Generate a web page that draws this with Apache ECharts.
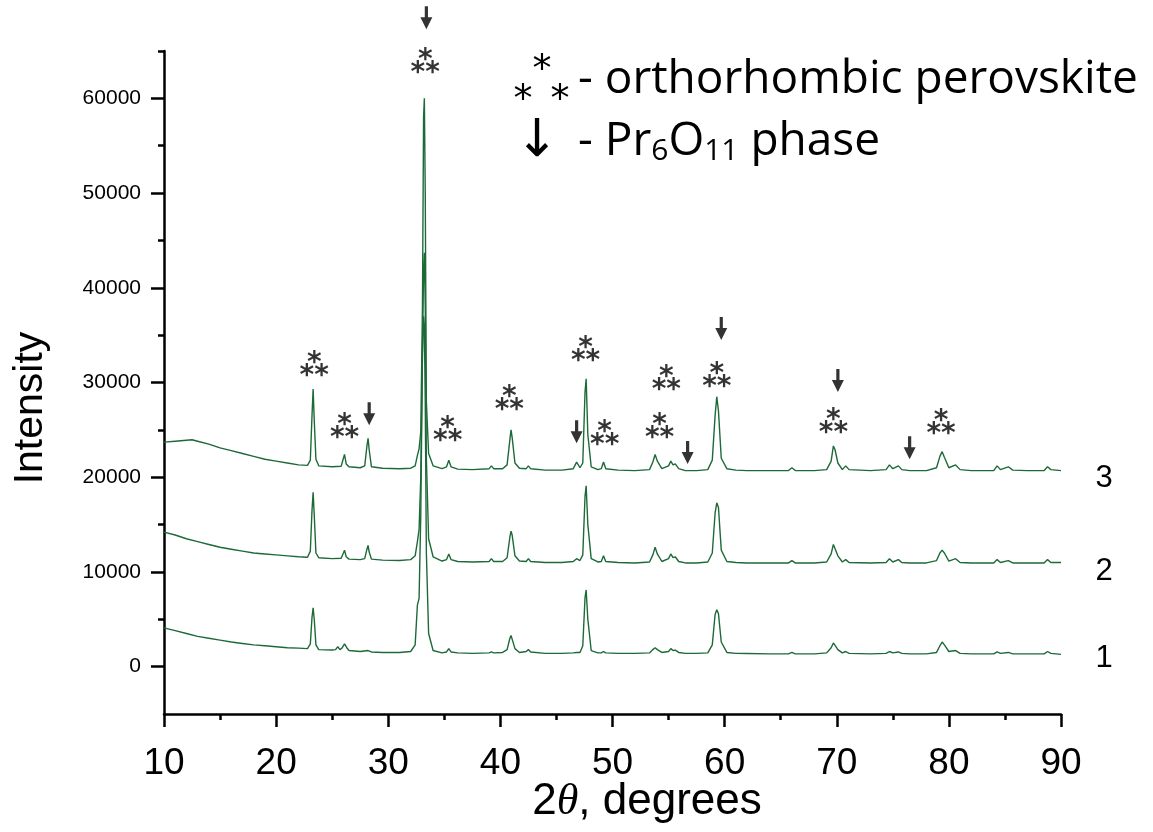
<!DOCTYPE html>
<html>
<head>
<meta charset="utf-8">
<script src="https://cdn.jsdelivr.net/npm/echarts@6/dist/echarts.min.js"></script>
<style>
html,body{margin:0;padding:0;background:#fff;}
#chart{width:1153px;height:832px;}
</style>
</head>
<body>
<div id="chart"></div>
<script>
// ---- data (2θ in degrees, intensity in counts) ----
const pattern1 = [[10,4100],[11,3800],[12,3500],[13,3200],[14,3000],[15,2800],[16,2600],[17,2450],[18,2300],[19,2200],[20,2100],[21,2000],[22,1950],[22.8,1900],[23.05,2400],[23.2,5200],[23.3,6200],[23.4,5000],[23.55,2300],[23.8,1800],[25,1750],[25.3,1800],[25.5,2100],[25.7,1800],[25.9,2000],[26.1,2400],[26.3,2000],[26.5,1700],[27.5,1600],[28.2,1700],[28.5,1550],[29.5,1500],[31,1500],[32,1600],[32.4,2300],[32.6,6500],[32.75,7200],[32.9,16000],[33.05,33000],[33.15,37000],[33.22,36000],[33.3,28000],[33.4,12000],[33.6,3500],[34.0,1700],[34.8,1450],[35.2,1550],[35.4,1900],[35.6,1550],[36.2,1450],[37.5,1400],[39.0,1450],[39.2,1550],[39.4,1450],[40.2,1500],[40.6,1800],[40.85,3000],[40.95,3300],[41.05,3100],[41.3,1900],[41.7,1500],[42.3,1600],[42.5,1800],[42.7,1550],[44,1400],[45.5,1400],[46.5,1450],[46.8,1500],[47.1,1500],[47.35,2200],[47.55,7300],[47.65,8100],[47.8,5000],[48.1,1700],[48.7,1450],[49.0,1450],[49.2,1600],[49.4,1450],[50.5,1400],[52,1400],[53.3,1450],[53.6,1800],[53.8,2000],[54.0,1800],[54.4,1500],[55.0,1600],[55.2,1900],[55.4,1700],[55.6,1750],[55.9,1500],[56.5,1400],[57.5,1400],[58.5,1450],[58.9,2300],[59.15,5500],[59.3,6000],[59.45,5600],[59.7,2600],[60.2,1500],[61,1400],[62,1380],[64,1350],[65.7,1350],[66,1500],[66.3,1350],[68,1350],[69.1,1450],[69.5,2000],[69.7,2500],[69.85,2400],[70.1,1800],[70.5,1450],[70.8,1600],[71.1,1400],[73,1350],[74.4,1400],[74.7,1600],[75,1450],[75.5,1550],[75.8,1400],[76.5,1350],[78,1350],[78.9,1500],[79.2,2200],[79.4,2600],[79.6,2300],[80,1600],[80.6,1700],[81,1400],[82,1350],[84,1350],[84.3,1550],[84.6,1400],[85.3,1500],[85.7,1350],[87,1350],[88.5,1350],[88.8,1600],[89.1,1400],[90,1300]];

const pattern2 = [[10,14200],[11,13900],[12,13500],[13,13200],[14,12900],[15,12600],[16,12400],[17,12200],[18,12000],[19,11900],[20,11800],[21,11700],[22,11600],[22.8,11550],[23.05,12200],[23.2,16500],[23.3,18400],[23.4,16000],[23.55,12000],[23.8,11500],[25,11400],[25.8,11450],[26.0,12000],[26.1,12300],[26.25,11600],[26.5,11350],[27.5,11300],[27.9,11400],[28.1,12400],[28.2,12800],[28.3,12100],[28.5,11350],[29.5,11250],[31,11200],[32,11300],[32.4,11700],[32.6,13200],[32.75,14500],[32.9,20000],[33.05,33000],[33.15,42000],[33.22,43700],[33.3,38000],[33.4,22000],[33.6,13500],[34.0,11600],[34.8,11150],[35.2,11300],[35.4,11900],[35.6,11300],[36.2,11100],[37.5,11050],[39.0,11100],[39.2,11400],[39.4,11100],[40.2,11100],[40.6,11500],[40.85,13700],[40.95,14300],[41.05,13900],[41.3,11700],[41.7,11150],[42.3,11100],[42.5,11400],[42.7,11100],[44,11000],[45.5,11000],[46.5,11100],[46.8,11400],[47.1,11200],[47.35,11800],[47.55,18000],[47.65,19100],[47.8,15000],[48.1,11400],[48.7,11050],[49.0,11100],[49.2,11700],[49.4,11100],[50.5,11000],[52,10950],[53.3,11050],[53.6,11800],[53.8,12600],[54.0,11900],[54.4,11100],[55.0,11400],[55.2,11900],[55.4,11500],[55.6,11600],[55.9,11100],[56.5,10950],[57.5,10950],[58.5,11050],[58.9,12000],[59.15,16200],[59.3,17300],[59.45,16800],[59.7,12300],[60.2,11100],[61,11000],[62,10950],[64,10950],[65.7,10950],[66,11200],[66.3,10950],[68,10950],[69.1,11050],[69.5,11900],[69.7,12900],[69.85,12700],[70.1,11700],[70.5,11050],[70.8,11300],[71.1,11000],[73,10950],[74.4,11000],[74.7,11400],[75,11050],[75.5,11300],[75.8,11000],[76.5,10950],[78,10950],[78.9,11200],[79.2,12000],[79.4,12300],[79.6,12000],[80,11150],[80.6,11400],[81,11000],[82,10950],[84,10950],[84.3,11300],[84.6,11000],[85.3,11200],[85.7,10950],[87,10950],[88.5,10950],[88.8,11300],[89.1,11000],[90,11000]];

const pattern3 = [[10,23700],[11,23800],[12,23900],[12.5,23950],[13,23800],[14,23500],[15,23100],[16,22800],[17,22500],[18,22200],[19,21900],[20,21700],[21,21500],[22,21300],[22.8,21250],[23.05,21800],[23.2,26500],[23.3,29300],[23.4,26000],[23.55,21900],[23.8,21200],[25,21100],[25.8,21150],[26.0,22000],[26.1,22400],[26.25,21400],[26.5,21100],[27.5,21000],[27.9,21200],[28.1,23300],[28.2,24100],[28.3,22900],[28.5,21100],[29.5,20950],[31,20900],[32,20950],[32.4,21200],[32.6,22300],[32.75,23000],[32.9,24800],[33.05,38000],[33.15,58000],[33.22,60000],[33.3,50000],[33.4,28000],[33.6,22500],[34.0,21200],[34.8,20900],[35.2,21100],[35.4,21800],[35.6,21100],[36.2,20850],[37.5,20800],[39.0,20900],[39.2,21200],[39.4,20900],[40.2,20900],[40.6,21300],[40.85,24000],[40.95,25000],[41.05,24200],[41.3,21500],[41.7,20950],[42.3,20900],[42.5,21200],[42.7,20900],[44,20750],[45.5,20750],[46.5,20900],[46.8,21600],[47.1,21000],[47.35,21500],[47.55,29000],[47.65,30400],[47.8,24500],[48.1,21100],[48.7,20800],[49.0,20900],[49.2,21600],[49.4,20900],[50.5,20750],[52,20700],[53.3,20800],[53.6,21600],[53.8,22400],[54.0,21700],[54.4,20900],[55.0,21200],[55.2,21700],[55.4,21300],[55.6,21400],[55.9,20900],[56.5,20700],[57.5,20700],[58.5,20800],[58.9,21800],[59.15,26500],[59.3,28500],[59.45,27000],[59.7,22000],[60.2,20900],[61,20750],[62,20700],[64,20700],[65.7,20700],[66,21000],[66.3,20700],[68,20700],[69.1,20800],[69.5,21700],[69.7,23300],[69.85,22900],[70.1,21500],[70.5,20800],[70.8,21200],[71.1,20800],[73,20700],[74.4,20800],[74.7,21300],[75,20900],[75.5,21200],[75.8,20800],[76.5,20700],[78,20700],[78.9,21000],[79.2,22200],[79.4,22700],[79.6,22100],[80,21000],[80.6,21300],[81,20800],[82,20700],[84,20700],[84.3,21200],[84.6,20800],[85.3,21100],[85.7,20750],[87,20700],[88.5,20700],[88.8,21100],[89.1,20800],[90,20700]];

// annotation positions (data coordinates)
const perovskiteMarks = [[23.4,32100],[26.1,25550],[33.3,64100],[35.3,25300],[40.8,28600],[47.6,33700],[49.3,24900],[54.2,25550],[54.8,30700],[59.3,31000],[69.7,26100],[79.3,26000]];
const pr6o11Marks = [[28.3,26700],[33.4,68500],[46.8,24800],[56.7,22600],[59.7,35700],[70.1,30200],[76.5,23100]];

// axis ticks
const yMajorTicks = [0,10000,20000,30000,40000,50000,60000];
const yMinorTicks = [5000,15000,25000,35000,45000,55000,65000];
const curveLabels = ['1','2','3'];

const green = '#1d6a38';
const chart = echarts.init(document.getElementById('chart'));

const lineSeries = (name, data) => ({
  name, type: 'line', data, xAxisIndex: 0, yAxisIndex: 0,
  showSymbol: false, symbol: 'none', smooth: false,
  lineStyle: { color: green, width: 1.4 },
  itemStyle: { color: green },
  animation: false, z: 2
});

const SANS = 'Liberation Sans, Arial, sans-serif';
const LEG = 'Open Sans, Noto Sans, sans-serif';

chart.setOption({
  animation: false,
  backgroundColor: '#fff',
  grid: { left: 164, right: 92, top: 51, bottom: 118, containLabel: false, outerBoundsMode: 'none' },
  xAxis: [{
    type: 'value', min: 10, max: 90, interval: 10,
    axisLine: { show: true, onZero: false, lineStyle: { color: '#000', width: 2.5 } },
    axisTick: { show: true, inside: false, length: 13, lineStyle: { color: '#000', width: 2.5 } },
    minorTick: { show: true, splitNumber: 2, length: 6, lineStyle: { color: '#000', width: 2.5 } },
    axisLabel: { show: true, margin: 31, fontSize: 37, color: '#000', fontFamily: SANS },
    splitLine: { show: false }, minorSplitLine: { show: false }
  }],
  yAxis: [{
    type: 'value', min: -5000, max: 65000, position: 'left',
    axisLine: { show: true, onZero: false, lineStyle: { color: '#000', width: 2.5 } },
    axisTick: { show: true, inside: false, length: 13, customValues: yMajorTicks, lineStyle: { color: '#000', width: 2.5 } },
    axisLabel: { show: true, margin: 23, fontSize: 21, color: '#000', customValues: yMajorTicks, fontFamily: SANS,
      formatter: v => String(v) },
    splitLine: { show: false }
  }, {
    type: 'value', min: -5000, max: 65000, position: 'left', offset: 0,
    axisLine: { show: false, onZero: false },
    axisTick: { show: true, inside: false, length: 6, customValues: yMinorTicks, lineStyle: { color: '#000', width: 2.5 } },
    axisLabel: { show: false },
    splitLine: { show: false }
  }],
  series: [
    lineSeries('1', pattern1),
    lineSeries('2', pattern2),
    lineSeries('3', pattern3),
    {
      name: 'orthorhombic perovskite', type: 'scatter', data: perovskiteMarks,
      symbol: 'circle', symbolSize: 1, itemStyle: { color: 'rgba(0,0,0,0)' },
      clip: false, z: 5, silent: true,
      label: {
        show: true, position: 'inside', offset: [0, 8],
        formatter: '{a|*}\n{a|**}',
        rich: { a: { fontSize: 28, fontWeight: 'bold', lineHeight: 13, color: '#000', fontFamily: 'DejaVu Sans, sans-serif', align: 'center' } }
      }
    },
    {
      name: 'Pr6O11 phase', type: 'scatter', data: pr6o11Marks,
      symbol: 'path://M4.4,0L7.6,0L7.6,11L12,11L6,23L0,11L4.4,11Z', symbolSize: [12, 23],
      itemStyle: { color: '#000' }, clip: false, z: 5, silent: true
    }
  ],
  graphic: [
    { type: 'text', x: 31, y: 408, rotation: Math.PI / 2,
      style: { text: 'Intensity', fontSize: 41, fontFamily: SANS, fill: '#000', align: 'center', verticalAlign: 'middle' } },
    { type: 'text', x: 647, y: 802,
      style: { text: '2{i|θ}, degrees', fontSize: 44, fontFamily: SANS, fill: '#000', align: 'center', verticalAlign: 'middle',
        rich: { i: { fontSize: 44, fontStyle: 'italic', fontFamily: 'Liberation Serif, Times New Roman, serif', fill: '#000' } } } },
    { type: 'text', x: 1104, y: 658, style: { text: curveLabels[0], fontSize: 31, fontFamily: SANS, fill: '#000', align: 'center', verticalAlign: 'middle' } },
    { type: 'text', x: 1104, y: 571, style: { text: curveLabels[1], fontSize: 31, fontFamily: SANS, fill: '#000', align: 'center', verticalAlign: 'middle' } },
    { type: 'text', x: 1104, y: 478, style: { text: curveLabels[2], fontSize: 31, fontFamily: SANS, fill: '#000', align: 'center', verticalAlign: 'middle' } },
    // legend: asterisk triad
    { type: 'text', x: 542, y: 71, style: { text: '*', fontSize: 38, fontFamily: 'DejaVu Sans, sans-serif', fill: '#000', align: 'center', verticalAlign: 'middle' } },
    { type: 'text', x: 523, y: 101, style: { text: '*', fontSize: 38, fontFamily: 'DejaVu Sans, sans-serif', fill: '#000', align: 'center', verticalAlign: 'middle' } },
    { type: 'text', x: 560, y: 101, style: { text: '*', fontSize: 38, fontFamily: 'DejaVu Sans, sans-serif', fill: '#000', align: 'center', verticalAlign: 'middle' } },
    { type: 'text', x: 578, y: 80, style: { text: '- orthorhombic perovskite', fontSize: 46, fontFamily: LEG, fill: '#000', align: 'left', verticalAlign: 'middle' } },
    { type: 'text', x: 537, y: 142, style: { text: '↓', fontSize: 52, fontFamily: 'DejaVu Sans, sans-serif', fill: '#000', align: 'center', verticalAlign: 'middle' } },
    { type: 'text', x: 578, y: 142,
      style: { text: '{n|- Pr}{s|6}{n|O}{s|11}{n| phase}', fontFamily: LEG, fill: '#000', align: 'left', verticalAlign: 'middle',
        rich: { n: { fontSize: 46, lineHeight: 56, fontFamily: LEG },
                s: { fontSize: 30, lineHeight: 56, padding: [18, 0, 0, 0], fontFamily: LEG } } } }
  ]
});
</script>
</body>
</html>
